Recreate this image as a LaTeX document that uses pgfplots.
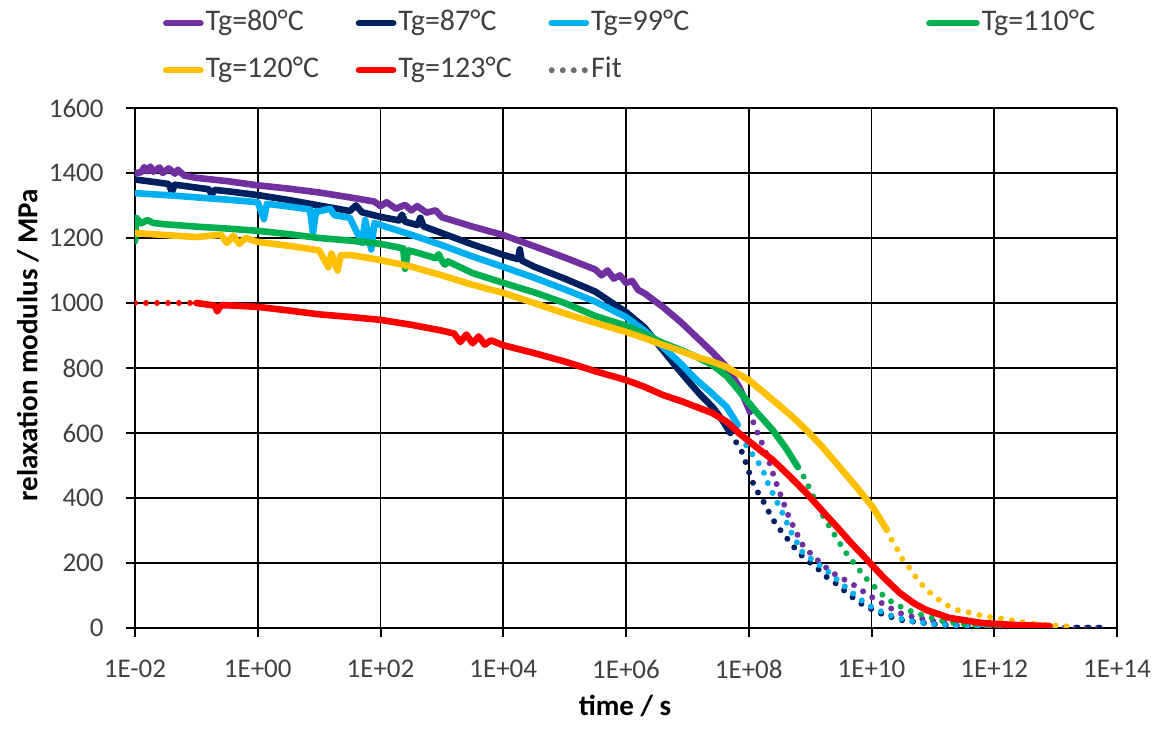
\documentclass[border=0pt]{standalone}
\usepackage{pgfplots}
\pgfplotsset{compat=1.18}
\usepackage{fontspec}
\setmainfont{Carlito}

\definecolor{cPurple}{RGB}{112,48,160}
\definecolor{cNavy}{RGB}{0,32,96}
\definecolor{cBlue}{RGB}{0,176,240}
\definecolor{cGreen}{RGB}{0,176,80}
\definecolor{cGold}{RGB}{255,192,0}
\definecolor{cRed}{RGB}{255,0,0}
\definecolor{labelgray}{RGB}{64,64,64}
\definecolor{fitgray}{RGB}{110,110,110}

\pgfplotsset{
  meas/.style={line width=3.3pt, line join=round, line cap=round},
  fit/.style={line width=3pt, line cap=round, dash pattern=on 0pt off 5.5pt},
  longleg/.style={legend image code/.code={\draw[##1] (0pt,0pt) -- (23.5pt,0pt);}},
}

\newcommand{\legtext}[2]{\makebox[#1][l]{#2}}

\begin{document}
\begin{tikzpicture}
\begin{axis}[
  at={(0,0)}, anchor=south west,
  scale only axis, width=491pt, height=260pt,
  xmode=log, xmin=1e-2, xmax=1e14, ymin=0, ymax=1600,
  xtick={1e-2,1,1e2,1e4,1e6,1e8,1e10,1e12,1e14},
  xticklabels={1E-02,1E+00,1E+02,1E+04,1E+06,1E+08,1E+10,1E+12,1E+14},
  xminorticks=false,
  ytick={0,200,...,1600},
  /pgf/number format/1000 sep={},
  /pgf/number format/assume math mode=true,
  grid=major,
  major grid style={black, line width=0.8pt},
  axis x line*=bottom, axis y line*=left,
  axis line style={black, line width=1.4pt, -},
  tick align=outside, major tick length=4.5pt,
  tick style={black, line width=1pt},
  xticklabel shift=11.5pt,
  xticklabel style={font=\fontsize{13.5}{16}\selectfont, text=labelgray, inner sep=0pt, anchor=north},
  yticklabel style={font=\fontsize{13.5}{16}\selectfont, text=labelgray, inner sep=0pt, anchor=east, xshift=-11pt},
  xlabel={\bfseries time / s},
  ylabel={\bfseries relaxation modulus / MPa},
  xlabel style={font=\fontsize{14.5}{17}\selectfont, at={(axis description cs:0.499,-0.169)}, anchor=base, inner sep=0pt},
  ylabel style={font=\fontsize{14.5}{17}\selectfont, at={(axis description cs:-0.109,0.544)}, anchor=center, inner sep=0pt},
  legend columns=4,
  legend cell align=left,
  legend style={
    at={(axis description cs:0.0285,1.19)}, anchor=north west,
    draw=none, fill=none, inner sep=0pt, outer sep=0pt,
    column sep=0pt, row sep=9.5pt,
    font=\fontsize{15}{18}\selectfont, text=labelgray,
    nodes={inner xsep=1pt, inner ysep=0pt, text height=10.5pt, text depth=3.5pt},
  },
]

% fitted model curves (dotted), shown where the measurements end
\addplot[fit, color=cRed, forget plot] coordinates {(1e-2,1000) (1e-1,1000)};
\addplot[fit, color=cPurple, forget plot] coordinates {
  (1.047e8,665) (1.259e8,618) (1.514e8,585) (1.995e8,530) (2.455e8,478)
  (2.951e8,434) (3.467e8,400) (4.169e8,357) (5.012e8,323) (6.026e8,292)
  (7.586e8,255) (1.072e9,225) (1.585e9,195) (2.344e9,169) (3.388e9,152)
  (4.898e9,135) (7.943e9,108) (1.202e10,86) (1.995e10,62) (2.884e10,46)
  (5.012e10,33) (1e11,22) (3.162e11,10) (1e12,5) (3.162e12,3) (1e13,2) (6.31e13,1)};
\addplot[fit, color=cNavy, forget plot] coordinates {
  (5.012e7,600) (6.31e7,570) (7.943e7,538) (1.047e8,471) (1.259e8,431)
  (1.622e8,400) (2.042e8,363) (2.63e8,326) (3.467e8,295) (4.677e8,265)
  (6.31e8,234) (8.913e8,208) (1.288e9,185) (1.862e9,157) (2.692e9,136)
  (3.981e9,108) (6.457e9,77) (1e10,58) (1.349e10,46) (2.884e10,25) (1e11,12)
  (3.162e11,6) (1e12,3) (1e13,1) (6.31e13,1)};
\addplot[fit, color=cBlue, forget plot] coordinates {
  (6.607e7,625) (9.333e7,557) (1.349e8,517) (1.698e8,486) (2.042e8,446)
  (2.455e8,415) (3.162e8,372) (3.89e8,338) (4.677e8,302) (6.026e8,265)
  (7.586e8,231) (1.288e9,200) (2.089e9,169) (3.981e9,122) (6.31e9,90) (1e10,65)
  (1.778e10,42) (3.981e10,22) (1e11,12) (3.162e11,6) (1e12,3) (1e13,1)};
\addplot[fit, color=cGreen, forget plot] coordinates {
  (6.31e8,495) (8.128e8,461) (1e9,425) (1.445e9,360) (2.344e9,295) (3.548e9,240)
  (5.754e9,188) (7.943e9,155) (1.047e10,132) (1.514e10,102) (2.239e10,77)
  (3.802e10,56) (5.495e10,45) (8.913e10,33) (1.445e11,22) (3.162e11,12)
  (1e12,5) (3.162e12,2)};
\addplot[fit, color=cGold, forget plot] coordinates {
  (1.778e10,302) (1.995e10,280) (2.57e10,246) (3.236e10,209) (4.467e10,178)
  (5.623e10,148) (7.943e10,117) (1.148e11,92) (1.66e11,71) (2.512e11,55)
  (4.266e11,46) (6.457e11,37) (1.096e12,31) (1.778e12,25) (2.818e12,18)
  (6.31e12,10) (1.585e13,5)};

% measured master curves
\addplot[meas, color=cPurple] coordinates {
  (1e-2,1400) (1.259e-2,1402) (1.413e-2,1418) (1.585e-2,1405) (1.778e-2,1420)
  (1.995e-2,1404) (2.512e-2,1417) (2.818e-2,1400) (3.548e-2,1414) (4.467e-2,1398)
  (5.012e-2,1410) (6.31e-2,1392) (1e-1,1385) (3.162e-1,1375) (1,1362) (3.162,1352)
  (10,1340) (31.62,1325) (79.43,1312) (100,1298) (125.9,1310) (177.8,1290)
  (251.2,1302) (316.2,1285) (398.1,1298) (562.3,1278) (794.3,1285) (1e3,1264)
  (3.162e3,1235) (1e4,1209) (3.162e4,1175) (1e5,1140) (3.162e5,1103) (3.981e5,1085)
  (5.012e5,1100) (6.31e5,1075) (7.943e5,1085) (1e6,1062) (1.259e6,1068)
  (1.585e6,1040) (1.995e6,1030) (3.981e6,988) (7.943e6,940) (1.413e7,895)
  (2.512e7,850) (4.365e7,803) (7.079e7,740) (1.047e8,665)};
\addlegendentry{\legtext{74pt}{Tg=80°C}}
\addplot[meas, color=cNavy] coordinates {
  (1e-2,1380) (2.512e-2,1370) (3.548e-2,1366) (3.981e-2,1342) (4.467e-2,1364)
  (1e-1,1355) (1.585e-1,1350) (1.778e-1,1335) (1.995e-1,1348) (3.162e-1,1344)
  (1,1332) (3.162,1317) (10,1300) (31.62,1283) (39.81,1300) (50.12,1279) (100,1265)
  (199.5,1254) (223.9,1272) (251.2,1250) (398.1,1240) (446.7,1262) (501.2,1236)
  (1e3,1215) (3.162e3,1180) (1e4,1148) (1.738e4,1135) (1.862e4,1165)
  (1.995e4,1131) (3.162e4,1112) (1e5,1075) (3.162e5,1035) (1e6,972) (1.995e6,925)
  (3.981e6,855) (6.31e6,808) (1e7,763) (1.585e7,720) (2.57e7,680) (3.548e7,645)
  (5.012e7,600)};
\addlegendentry{\legtext{74pt}{Tg=87°C}}
\addplot[meas, color=cBlue] coordinates {
  (1e-2,1338) (3.162e-2,1332) (1e-1,1325) (3.162e-1,1318) (1,1310) (1.259,1258)
  (1.413,1305) (3.162,1297) (7.079,1288) (7.943,1215) (8.913,1283) (10,1282)
  (15.14,1290) (17.78,1270) (31.62,1262) (50.12,1185) (56.23,1255) (70.79,1165)
  (79.43,1246) (100,1240) (316.2,1210) (1e3,1178) (3.162e3,1143) (1e4,1111)
  (3.162e4,1078) (1e5,1042) (3.162e5,1004) (1e6,957) (1.995e6,915) (3.981e6,865)
  (7.943e6,812) (1.413e7,763) (2.512e7,722) (4.365e7,680) (6.607e7,625)};
\addlegendentry{\legtext{166.5pt}{Tg=99°C}}
\addplot[meas, color=cGreen, longleg] coordinates {
  (1e-2,1190) (1.047e-2,1262) (1.259e-2,1245) (1.585e-2,1255) (1.995e-2,1246)
  (3.162e-2,1242) (1e-1,1235) (3.162e-1,1229) (1,1222) (3.162,1212) (10,1200)
  (31.62,1192) (100,1182) (234.4,1168) (251.2,1105) (281.8,1162) (316.2,1160)
  (794.3,1138) (891.3,1150) (1e3,1130) (1.122e3,1118) (1.259e3,1128)
  (3.162e3,1092) (1e4,1062) (3.162e4,1033) (1e5,1000) (3.162e5,960) (1e6,930)
  (1.995e6,905) (3.981e6,877) (7.943e6,855) (1.413e7,834) (2.512e7,810)
  (4.365e7,775) (7.079e7,728) (1.259e8,670) (2.455e8,609) (3.981e8,555) (6.31e8,495)};
\addlegendentry{Tg=110°C}
\addplot[meas, color=cGold] coordinates {
  (1e-2,1215) (3.162e-2,1209) (1e-1,1203) (2.512e-1,1210) (3.162e-1,1185)
  (3.981e-1,1207) (5.012e-1,1182) (6.31e-1,1200) (1,1188) (3.162,1176) (10,1162)
  (14.13,1110) (15.85,1152) (19.95,1100) (22.39,1146) (31.62,1148) (100,1132)
  (316.2,1112) (1e3,1085) (3.162e3,1056) (1e4,1031) (3.162e4,1000) (1e5,968)
  (3.162e5,939) (1e6,911) (1.995e6,892) (3.981e6,871) (7.943e6,852) (1.413e7,834)
  (2.512e7,820) (4.365e7,803) (1e8,763) (2.455e8,702) (5.012e8,652) (8.71e8,609)
  (1.585e9,557) (3.02e9,495) (5.623e9,435) (1.047e10,372) (1.778e10,302)};
\addlegendentry{\legtext{74pt}{Tg=120°C}}
\addplot[meas, color=cRed] coordinates {
  (1e-1,1000) (1.995e-1,992) (2.188e-1,974) (2.512e-1,993) (3.162e-1,993) (1,988)
  (3.162,977) (10,965) (31.62,957) (100,948) (316.2,933) (1e3,915) (1.585e3,906)
  (1.995e3,880) (2.512e3,903) (3.162e3,876) (3.981e3,897) (5.012e3,872)
  (6.31e3,885) (1e4,870) (3.162e4,846) (1e5,820) (3.162e5,790) (1e6,763)
  (1.995e6,742) (3.981e6,717) (7.943e6,698) (1.413e7,680) (2.512e7,662)
  (4.365e7,635) (7.079e7,598) (1.259e8,560) (2.455e8,517) (4.467e8,470)
  (8.71e8,415) (1.585e9,360) (3.02e9,302) (5.012e9,255) (8.318e9,212) (1e10,195)
  (1.585e10,155) (2.884e10,108) (5.012e10,75) (7.943e10,55) (1.862e11,31)
  (6.457e11,15) (2.291e12,9) (7.943e12,6)};
\addlegendentry{\legtext{74pt}{Tg=123°C}}
\addlegendimage{fit, color=fitgray}
\addlegendentry{Fit}
\end{axis}
\pgfresetboundingbox
\path[use as bounding box] (-67.5pt,-51.5pt) rectangle (517pt,314pt);
\end{tikzpicture}
\end{document}
